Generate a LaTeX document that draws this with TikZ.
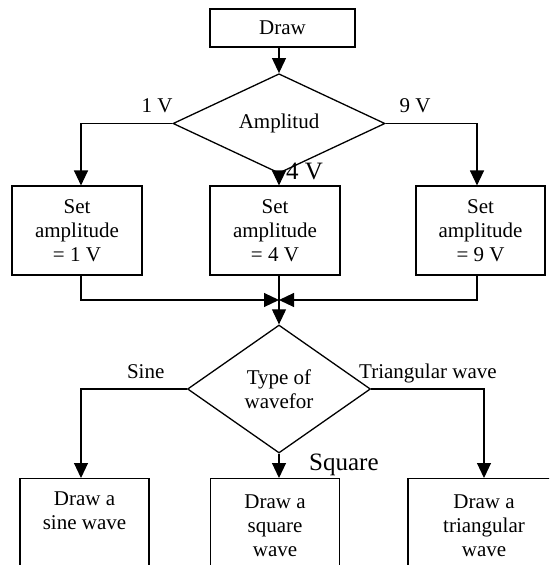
\documentclass[tikz,border=0pt]{standalone}
\usepackage{fontspec}
\setmainfont{Liberation Serif}
\usetikzlibrary{shapes.geometric,arrows.meta}
\begin{document}
\begin{tikzpicture}[x=1pt, y=-1pt,
            every node/.style={font=\fontsize{21}{24}\selectfont},
            proc_box/.style={rectangle, draw=black, line width=1.1pt, align=center, inner sep=0pt},
            dec_node/.style={diamond, draw=black, line width=1.3pt, align=center, inner sep=0pt},
            flow_edge/.style={line width=1.1pt, -{Triangle[width=14pt,length=15pt]}},
            branch_lbl/.style={inner sep=0pt},
            big_lbl/.style={inner sep=0pt, font=\fontsize{25}{28}\selectfont}
        ]

        % Page frame
        \useasboundingbox (0,0) rectangle (549,565);
        \clip (0,0) rectangle (549,565);

        % Start and amplitude choice
        \node[proc_box, minimum width=145pt, minimum height=38pt] (start) at (282.5,28) {Draw};
        \node[dec_node, minimum width=212pt, minimum height=75pt] (amp) at (279,123.5) {Amplitud};

        % Amplitude boxes
        \node[proc_box, minimum width=130pt, minimum height=89pt] (set1) at (77,230.5) {Set\\amplitude\\= 1 V};
        \node[proc_box, minimum width=130pt, minimum height=89pt] (set4) at (275,230.5) {Set\\amplitude\\= 4 V};
        \node[proc_box, minimum width=129pt, minimum height=89pt] (set9) at (480.5,230.5) {Set\\amplitude\\= 9 V};

        % Waveform choice
        \coordinate (merge) at (279,300);
        \node[dec_node, minimum width=183pt, minimum height=128pt] (wave) at (279,389) {Type of\\wavefor};

        % Waveform boxes (cut off at the bottom)
        \node[proc_box, anchor=north, minimum width=129pt, minimum height=95pt] (sine) at (84.5,478) {Draw a\\sine wave\\\strut};
        \node[proc_box, anchor=north, minimum width=129pt, minimum height=95pt] (square) at (275,478) {Draw a\\square\\wave};
        \node[proc_box, anchor=north, minimum width=152pt, minimum height=95pt] (tri) at (484,478) {Draw a\\triangular\\wave};

        % Connectors
        \draw[flow_edge] ([xshift=-3.5pt]start.south) -- (amp.north);
        \draw[flow_edge] (amp.west) -| ([xshift=4pt]set1.north);
        \draw[flow_edge] (amp.south) -- ([xshift=4pt]set4.north);
        \draw[flow_edge] (amp.east) -| ([xshift=-3.5pt]set9.north);

        \draw[flow_edge] ([xshift=4pt]set1.south) |- (merge);
        \draw[flow_edge] ([xshift=-3.5pt]set9.south) |- (merge);
        \draw[flow_edge] ([xshift=4pt]set4.south) -- (wave.north);

        \draw[flow_edge] (wave.west) -| ([xshift=-3.5pt]sine.north);
        \draw[flow_edge] (wave.south) -- ([xshift=4pt]square.north);
        \draw[flow_edge] (wave.east) -| (tri.north);

        % Branch labels
        \node[branch_lbl, anchor=base] (lbl1) at (157,112) {1 V};
        \node[branch_lbl, anchor=base] (lbl9) at (415,112) {9 V};
        \node[big_lbl, anchor=base west] (lbl4) at (286,179) {4 V};
        \node[branch_lbl, anchor=base] (lblsine) at (145.7,378.7) {Sine};
        \node[branch_lbl, anchor=base west] (lbltri) at (359,378) {Triangular wave};
        \node[big_lbl, anchor=base west] (lblsq) at (309,470) {Square};

    \end{tikzpicture}
\end{document}
